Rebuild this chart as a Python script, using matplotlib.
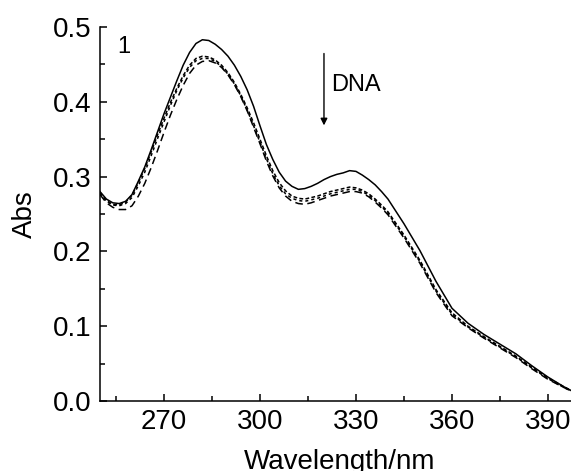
import matplotlib.pyplot as plt
from matplotlib.ticker import MultipleLocator

plt.rcParams["font.family"] = ["Liberation Sans", "DejaVu Sans"]

# wavelength grid (nm)
wavelength = [250, 252, 254, 256, 258, 260, 262, 264, 266, 268,
              270, 272, 274, 276, 278, 280, 282, 284, 286, 288,
              290, 292, 294, 296, 298, 300, 302, 304, 306, 308,
              310, 312, 314, 316, 318, 320, 322, 324, 326, 328,
              330, 332, 334, 336, 338, 340, 345, 350, 355, 360,
              365, 370, 375, 380, 385, 390, 395, 400]

# free complex (curve 1)
abs_0 = [0.280, 0.270, 0.265, 0.264, 0.267, 0.276, 0.294, 0.313, 0.336, 0.360,
         0.384, 0.406, 0.428, 0.449, 0.466, 0.478, 0.483, 0.482, 0.477, 0.470,
         0.461, 0.449, 0.434, 0.416, 0.394, 0.368, 0.343, 0.323, 0.306, 0.294,
         0.287, 0.283, 0.284, 0.287, 0.291, 0.296, 0.300, 0.303, 0.305, 0.308,
         0.307, 0.302, 0.296, 0.289, 0.280, 0.270, 0.237, 0.201, 0.160, 0.124,
         0.104, 0.089, 0.076, 0.063, 0.047, 0.032, 0.019, 0.008]

# with increasing DNA
abs_1 = [0.279, 0.268, 0.263, 0.262, 0.266, 0.275, 0.292, 0.311, 0.333, 0.356,
         0.378, 0.399, 0.418, 0.435, 0.449, 0.458, 0.461, 0.460, 0.456, 0.449,
         0.439, 0.426, 0.410, 0.392, 0.372, 0.350, 0.328, 0.308, 0.292, 0.281,
         0.274, 0.271, 0.270, 0.272, 0.274, 0.277, 0.280, 0.282, 0.284, 0.286,
         0.285, 0.282, 0.277, 0.270, 0.262, 0.253, 0.222, 0.188, 0.149, 0.118,
         0.100, 0.086, 0.073, 0.060, 0.045, 0.031, 0.019, 0.008]

abs_2 = [0.278, 0.267, 0.262, 0.261, 0.264, 0.272, 0.288, 0.306, 0.328, 0.351,
         0.373, 0.395, 0.415, 0.432, 0.446, 0.455, 0.458, 0.458, 0.454, 0.447,
         0.437, 0.424, 0.408, 0.389, 0.368, 0.346, 0.324, 0.304, 0.288, 0.277,
         0.271, 0.268, 0.267, 0.269, 0.271, 0.274, 0.277, 0.279, 0.281, 0.283,
         0.283, 0.280, 0.275, 0.268, 0.260, 0.251, 0.220, 0.186, 0.147, 0.116,
         0.099, 0.085, 0.072, 0.059, 0.044, 0.030, 0.018, 0.008]

abs_3 = [0.276, 0.265, 0.259, 0.256, 0.256, 0.261, 0.274, 0.291, 0.312, 0.335,
         0.359, 0.382, 0.403, 0.422, 0.438, 0.449, 0.454, 0.455, 0.452, 0.446,
         0.436, 0.423, 0.407, 0.388, 0.366, 0.344, 0.321, 0.301, 0.285, 0.274,
         0.267, 0.264, 0.263, 0.265, 0.268, 0.271, 0.274, 0.276, 0.278, 0.280,
         0.280, 0.278, 0.273, 0.266, 0.258, 0.249, 0.218, 0.184, 0.145, 0.114,
         0.098, 0.084, 0.071, 0.058, 0.043, 0.029, 0.018, 0.008]

fig = plt.figure(figsize=(5.71, 4.71), dpi=100)
ax = fig.add_axes([0.1751, 0.1486, 0.8406, 0.794])

lw = 1.1
ax.plot(wavelength, abs_0, color="black", lw=lw, linestyle="-")
ax.plot(wavelength, abs_1, color="black", lw=lw, linestyle=(0, (2.5, 1.5)))
ax.plot(wavelength, abs_2, color="black", lw=lw, linestyle=(0, (2, 2)))
ax.plot(wavelength, abs_3, color="black", lw=lw, linestyle=(0, (5, 3)))

ax.set_xlim(250, 400)
ax.set_ylim(0, 0.5)
ax.xaxis.set_minor_locator(MultipleLocator(15))
ax.yaxis.set_major_locator(MultipleLocator(0.1))
ax.yaxis.set_minor_locator(MultipleLocator(0.05))
ax.set_xticks([270, 300, 330, 360, 390])
ax.yaxis.set_major_formatter(plt.FormatStrFormatter("%.1f"))

for side in ("top", "right"):
    ax.spines[side].set_visible(False)
for side in ("left", "bottom"):
    ax.spines[side].set_linewidth(1.1)

ax.tick_params(which="major", direction="in", length=5, width=1.1, labelsize=20, pad=6)
ax.tick_params(which="minor", direction="in", length=3.5, width=1.1)

ax.set_xlabel("Wavelength/nm", fontsize=20, labelpad=10)
ax.set_ylabel("Abs", fontsize=20, labelpad=11)

ax.text(255.5, 0.473, "1", fontsize=17, ha="left", va="center")
ax.annotate("", xy=(320, 0.3685), xytext=(320, 0.4646),
            arrowprops=dict(arrowstyle="-|>", color="black", lw=1.0,
                            mutation_scale=10, shrinkA=0, shrinkB=0))
ax.text(322.3, 0.423, "DNA", fontsize=17, ha="left", va="center")

fig.savefig("out.png", dpi=100)
